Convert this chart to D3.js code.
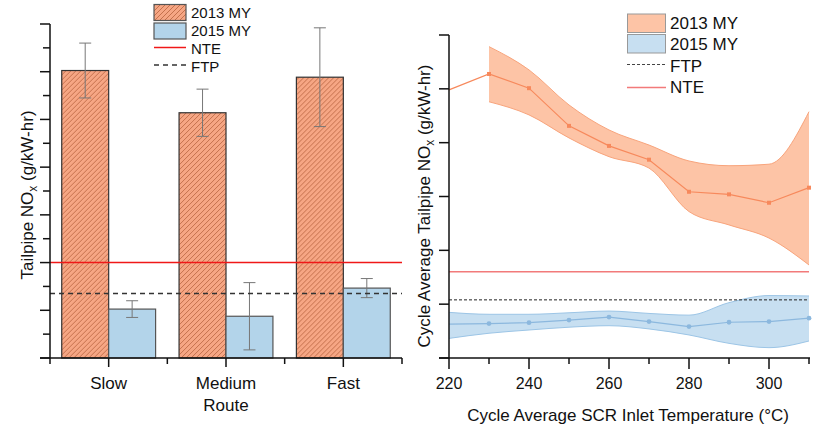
<!DOCTYPE html>
<html>
<head>
<meta charset="utf-8">
<script src="https://cdn.jsdelivr.net/npm/d3@7"></script>
<style>
  body { margin: 0; background: #fff; }
  svg { display: block; font-family: Arial, 'Liberation Sans', sans-serif; }
</style>
</head>
<body>
<svg id="chart" width="817" height="428"></svg>
<script>
// ---- left panel data (bars by route)
const routes = ['Slow', 'Medium', 'Fast']
const bar2013 = [1.205, 1.028, 1.177]
const err2013 = [0.115, 0.099, 0.207]
const bar2015 = [0.205, 0.175, 0.293]
const err2015 = [0.035, 0.141, 0.04]
const NTE = 0.40
const FTP = 0.27
const leftTicks = [0, 0.1, 0.2, 0.3, 0.4, 0.5, 0.6, 0.7, 0.8, 0.9, 1.0, 1.1, 1.2, 1.3, 1.4]

// ---- right panel data (vs SCR inlet temperature)
const temps = [220, 230, 240, 250, 260, 270, 280, 290, 300, 310]
const mean2013 = [1.245, 1.319, 1.253, 1.078, 0.985, 0.921, 0.772, 0.760, 0.721, 0.791]
const bandTemps2013 = [230, 240, 250, 260, 270, 280, 290, 300, 310]
const hi2013 = [1.446, 1.338, 1.175, 1.059, 0.989, 0.915, 0.893, 0.900, 1.144]
const lo2013 = [1.190, 1.129, 1.022, 0.935, 0.882, 0.680, 0.618, 0.557, 0.432]
const mean2015 = [0.157, 0.160, 0.164, 0.176, 0.190, 0.169, 0.146, 0.166, 0.169, 0.185]
const hi2015 = [0.212, 0.203, 0.203, 0.210, 0.218, 0.207, 0.199, 0.257, 0.290, 0.288]
const lo2015 = [0.091, 0.115, 0.130, 0.143, 0.150, 0.135, 0.107, 0.068, 0.048, 0.079]
const rightYTicks = [0, 0.25, 0.5, 0.75, 1.0, 1.25, 1.5]
const rightXMajor = [220, 240, 260, 280, 300]
const rightXMinor = [230, 250, 270, 290, 310]

const svg = d3.select('#chart')

// hatch pattern for 2013 bars
const defs = svg.append('defs')
const pat = defs
  .append('pattern')
  .attr('id', 'hatch')
  .attr('patternUnits', 'userSpaceOnUse')
  .attr('width', 5)
  .attr('height', 5)
pat.append('rect').attr('width', 5).attr('height', 5).attr('fill', '#f6a684')
pat
  .append('path')
  .attr('d', 'M0,5 L5,0 M-1,1 L1,-1 M4,6 L6,4')
  .attr('stroke', '#b8633f')
  .attr('stroke-width', 0.8)

// =================== LEFT PANEL ===================
const left = svg.append('g').attr('id', 'left')

const xBand = d3.scaleBand().domain(routes).range([50, 402]).paddingInner(0.2).paddingOuter(0.1)
const yL = d3.scaleLinear().domain([0, 1.4]).range([358, 24])

const groups = routes.map((r, i) => ({
  route: r,
  items: [
    { key: '2013', v: bar2013[i], e: err2013[i] },
    { key: '2015', v: bar2015[i], e: err2015[i] },
  ],
}))
const xSub = d3.scaleBand().domain(['2013', '2015']).range([0, xBand.bandwidth()])

const gBars = left
  .selectAll('g.route')
  .data(groups)
  .join('g')
  .attr('class', 'route')
  .attr('transform', (d) => `translate(${xBand(d.route)},0)`)

gBars
  .selectAll('rect')
  .data((d) => d.items)
  .join('rect')
  .attr('x', (d) => xSub(d.key))
  .attr('y', (d) => yL(d.v))
  .attr('width', xSub.bandwidth())
  .attr('height', (d) => yL(0) - yL(d.v))
  .attr('fill', (d) => (d.key === '2013' ? 'url(#hatch)' : '#b3d4ea'))
  .attr('stroke', (d) => (d.key === '2013' ? '#333' : '#555'))
  .attr('stroke-width', 1.2)

// error bars
const eb = gBars
  .selectAll('g.err')
  .data((d) => d.items)
  .join('g')
  .attr('class', 'err')
  .attr('transform', (d) => `translate(${xSub(d.key) + xSub.bandwidth() / 2},0)`)
eb.append('line')
  .attr('y1', (d) => yL(d.v + d.e))
  .attr('y2', (d) => yL(d.v - d.e))
  .attr('stroke', '#777')
eb.selectAll('line.cap')
  .data((d) => [d.v + d.e, d.v - d.e])
  .join('line')
  .attr('class', 'cap')
  .attr('x1', -6)
  .attr('x2', 6)
  .attr('y1', (d) => yL(d))
  .attr('y2', (d) => yL(d))
  .attr('stroke', '#777')

// reference lines
left.append('line')
  .attr('x1', 50).attr('x2', 402)
  .attr('y1', yL(NTE)).attr('y2', yL(NTE))
  .attr('stroke', '#f01818').attr('stroke-width', 1.5)
left.append('line')
  .attr('x1', 50).attr('x2', 402)
  .attr('y1', yL(FTP)).attr('y2', yL(FTP))
  .attr('stroke', '#333').attr('stroke-width', 1.5)
  .attr('stroke-dasharray', '5,4')

// y axis (no labels, major + minor ticks)
left.append('line')
  .attr('x1', 50).attr('x2', 50).attr('y1', yL(1.4)).attr('y2', yL(0))
  .attr('stroke', '#111').attr('stroke-width', 1.5)
left.selectAll('line.ytick')
  .data(leftTicks)
  .join('line')
  .attr('class', 'ytick')
  .attr('x1', (d, i) => (i % 2 === 0 ? 40 : 43))
  .attr('x2', 50)
  .attr('y1', (d) => yL(d))
  .attr('y2', (d) => yL(d))
  .attr('stroke', '#111').attr('stroke-width', 1.5)

// x axis
left.append('line')
  .attr('x1', 40).attr('x2', 402).attr('y1', yL(0)).attr('y2', yL(0))
  .attr('stroke', '#111').attr('stroke-width', 1.5)
const edges = [50, ...routes.map((r) => xBand(r) + xBand.bandwidth() + (xBand.step() - xBand.bandwidth()) / 2)]
left.selectAll('line.xedge')
  .data(edges)
  .join('line')
  .attr('class', 'xedge')
  .attr('x1', (d) => d).attr('x2', (d) => d)
  .attr('y1', 358).attr('y2', 364)
  .attr('stroke', '#111').attr('stroke-width', 1.5)
left.selectAll('line.xcen')
  .data(routes)
  .join('line')
  .attr('class', 'xcen')
  .attr('x1', (d) => xBand(d) + xBand.bandwidth() / 2)
  .attr('x2', (d) => xBand(d) + xBand.bandwidth() / 2)
  .attr('y1', 358).attr('y2', 367)
  .attr('stroke', '#111').attr('stroke-width', 1.5)
left.selectAll('text.xlab')
  .data(routes)
  .join('text')
  .attr('class', 'xlab')
  .attr('x', (d) => xBand(d) + xBand.bandwidth() / 2)
  .attr('y', 389)
  .attr('text-anchor', 'middle')
  .attr('font-size', 17)
  .attr('fill', '#111')
  .text((d) => d)
left.append('text')
  .attr('x', 226).attr('y', 411)
  .attr('text-anchor', 'middle').attr('font-size', 17).attr('fill', '#111')
  .text('Route')

const yTitleL = left.append('text')
  .attr('transform', 'translate(33,195) rotate(-90)')
  .attr('text-anchor', 'middle').attr('font-size', 17).attr('fill', '#111')
yTitleL.append('tspan').text('Tailpipe NO')
yTitleL.append('tspan').attr('font-size', 12).attr('dy', 4).text('x')
yTitleL.append('tspan').attr('dy', -4).text(' (g/kW-hr)')

// left legend
const legL = left.append('g').attr('font-size', 15).attr('fill', '#111')
legL.append('rect').attr('x', 154).attr('y', 4.5).attr('width', 32).attr('height', 16)
  .attr('fill', 'url(#hatch)').attr('stroke', '#555').attr('stroke-width', 1.2)
legL.append('rect').attr('x', 154).attr('y', 23).attr('width', 32).attr('height', 16)
  .attr('fill', '#b3d4ea').attr('stroke', '#555').attr('stroke-width', 1.2)
legL.append('line').attr('x1', 154).attr('x2', 186).attr('y1', 47.5).attr('y2', 47.5)
  .attr('stroke', '#f01818').attr('stroke-width', 1.5)
legL.append('line').attr('x1', 154).attr('x2', 186).attr('y1', 65).attr('y2', 65)
  .attr('stroke', '#333').attr('stroke-width', 1.5).attr('stroke-dasharray', '5,4')
legL.selectAll('text')
  .data([['2013 MY', 18], ['2015 MY', 36], ['NTE', 54], ['FTP', 72]])
  .join('text')
  .attr('x', 191).attr('y', (d) => d[1])
  .attr('fill', '#111')
  .text((d) => d[0])

// =================== RIGHT PANEL ===================
const right = svg.append('g').attr('id', 'right')
const xR = d3.scaleLinear().domain([220, 310]).range([449, 809])
const yR = d3.scaleLinear().domain([0, 1.5]).range([358, 35])

const band = (ts, lo, hi) =>
  d3.area()
    .x((d, i) => xR(ts[i]))
    .y0((d, i) => yR(lo[i]))
    .y1((d, i) => yR(hi[i]))
    .curve(d3.curveMonotoneX)(ts)
const edge = (ts, vs) =>
  d3.line().x((d, i) => xR(ts[i])).y((d, i) => yR(vs[i])).curve(d3.curveMonotoneX)(ts)

// 2013 band
right.append('path').attr('d', band(bandTemps2013, lo2013, hi2013))
  .attr('fill', '#fdc4a6')
right.append('path').attr('d', edge(bandTemps2013, hi2013))
  .attr('fill', 'none').attr('stroke', '#f8a47c').attr('stroke-width', 1)
right.append('path').attr('d', edge(bandTemps2013, lo2013))
  .attr('fill', 'none').attr('stroke', '#f8a47c').attr('stroke-width', 1)
// 2015 band
right.append('path').attr('d', band(temps, lo2015, hi2015))
  .attr('fill', '#c7dff1')
right.append('path').attr('d', edge(temps, hi2015))
  .attr('fill', 'none').attr('stroke', '#9cc5e6').attr('stroke-width', 1)
right.append('path').attr('d', edge(temps, lo2015))
  .attr('fill', 'none').attr('stroke', '#9cc5e6').attr('stroke-width', 1)

// reference lines
right.append('line')
  .attr('x1', 449).attr('x2', 809).attr('y1', yR(NTE)).attr('y2', yR(NTE))
  .attr('stroke', '#f27a7a').attr('stroke-width', 1.5)
right.append('line')
  .attr('x1', 449).attr('x2', 809).attr('y1', yR(FTP)).attr('y2', yR(FTP))
  .attr('stroke', '#222').attr('stroke-width', 1).attr('stroke-dasharray', '3,2')

// mean lines + markers
const meanLine = d3.line().x((d, i) => xR(temps[i])).y((d) => yR(d))
right.append('path').attr('d', meanLine(mean2013))
  .attr('fill', 'none').attr('stroke', '#f7895c').attr('stroke-width', 1.2)
right.selectAll('rect.m13')
  .data(mean2013.slice(1))
  .join('rect')
  .attr('class', 'm13')
  .attr('x', (d, i) => xR(temps[i + 1]) - 2)
  .attr('y', (d) => yR(d) - 2)
  .attr('width', 4).attr('height', 4)
  .attr('fill', '#f7895c')
right.append('path').attr('d', meanLine(mean2015))
  .attr('fill', 'none').attr('stroke', '#8cb8de').attr('stroke-width', 1.2)
right.selectAll('circle.m15')
  .data(mean2015.slice(1))
  .join('circle')
  .attr('class', 'm15')
  .attr('cx', (d, i) => xR(temps[i + 1]))
  .attr('cy', (d) => yR(d))
  .attr('r', 2.4)
  .attr('fill', '#8cb8de')

// axes
right.append('line')
  .attr('x1', 449).attr('x2', 449).attr('y1', yR(1.5)).attr('y2', yR(0))
  .attr('stroke', '#111').attr('stroke-width', 1.5)
right.selectAll('line.ytick')
  .data(rightYTicks)
  .join('line')
  .attr('class', 'ytick')
  .attr('x1', 439).attr('x2', 449)
  .attr('y1', (d) => yR(d)).attr('y2', (d) => yR(d))
  .attr('stroke', '#111').attr('stroke-width', 1.5)
right.append('line')
  .attr('x1', 439).attr('x2', 810).attr('y1', yR(0)).attr('y2', yR(0))
  .attr('stroke', '#111').attr('stroke-width', 1.5)
right.selectAll('line.xmaj')
  .data(rightXMajor)
  .join('line')
  .attr('class', 'xmaj')
  .attr('x1', (d) => xR(d)).attr('x2', (d) => xR(d))
  .attr('y1', 358).attr('y2', 369)
  .attr('stroke', '#111').attr('stroke-width', 1.5)
right.selectAll('line.xmin')
  .data(rightXMinor)
  .join('line')
  .attr('class', 'xmin')
  .attr('x1', (d) => xR(d)).attr('x2', (d) => xR(d))
  .attr('y1', 358).attr('y2', 364)
  .attr('stroke', '#111').attr('stroke-width', 1.5)
right.selectAll('text.xlab')
  .data(rightXMajor)
  .join('text')
  .attr('class', 'xlab')
  .attr('x', (d) => xR(d)).attr('y', 389)
  .attr('text-anchor', 'middle').attr('font-size', 16).attr('fill', '#111')
  .text((d) => d)
right.append('text')
  .attr('x', 628).attr('y', 421)
  .attr('text-anchor', 'middle').attr('font-size', 17).attr('fill', '#111')
  .text('Cycle Average SCR Inlet Temperature (°C)')

const yTitleR = right.append('text')
  .attr('transform', 'translate(430,206) rotate(-90)')
  .attr('text-anchor', 'middle').attr('font-size', 17).attr('fill', '#111')
yTitleR.append('tspan').text('Cycle Average Tailpipe NO')
yTitleR.append('tspan').attr('font-size', 12).attr('dy', 4).text('x')
yTitleR.append('tspan').attr('dy', -4).text(' (g/kW-hr)')

// right legend
const legR = right.append('g').attr('font-size', 17)
legR.append('rect').attr('x', 627.5).attr('y', 14).attr('width', 38).attr('height', 18.5)
  .attr('fill', '#fdc4a6').attr('stroke', '#999').attr('stroke-width', 1)
legR.append('rect').attr('x', 627.5).attr('y', 34.5).attr('width', 38).attr('height', 18.5)
  .attr('fill', '#c7dff1').attr('stroke', '#999').attr('stroke-width', 1)
legR.append('line').attr('x1', 627).attr('x2', 666).attr('y1', 64.5).attr('y2', 64.5)
  .attr('stroke', '#444').attr('stroke-width', 1).attr('stroke-dasharray', '3,2')
legR.append('line').attr('x1', 627).attr('x2', 666).attr('y1', 87.5).attr('y2', 87.5)
  .attr('stroke', '#f27a7a').attr('stroke-width', 1.5)
legR.selectAll('text')
  .data([['2013 MY', 29], ['2015 MY', 49.5], ['FTP', 71.5], ['NTE', 92.5]])
  .join('text')
  .attr('x', 670).attr('y', (d) => d[1])
  .attr('fill', '#111')
  .text((d) => d[0])
</script>
</body>
</html>
